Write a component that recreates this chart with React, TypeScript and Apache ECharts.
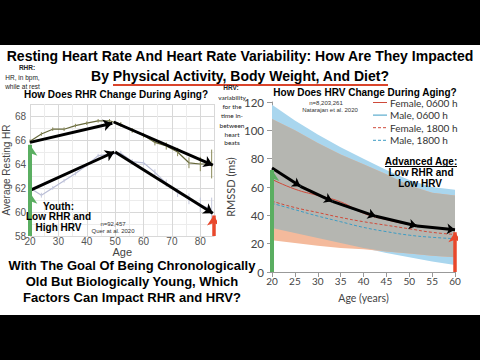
import React, { useEffect, useRef } from 'react';
import * as echarts from 'echarts';

// ---------- Left chart: RHR vs age (Quer et al. 2020) ----------
const rhrAges = [20, 24, 28, 32, 36, 40, 44, 48, 52, 56, 60, 64, 68, 72, 76, 80, 84];
const rhrWomen = [65.9, 66.5, 66.9, 66.9, 67.2, 67.4, 67.6, 67.6, 67.3, 66.8, 66.4, 65.8, 65.5, 65.0, 64.1, 64.0, 64.0];
const rhrWomenErr = [0.15, 0.15, 0.15, 0.15, 0.15, 0.15, 0.15, 0.15, 0.2, 0.2, 0.2, 0.25, 0.3, 0.35, 0.45, 0.6, 1.2];
const rhrMen = [62.0, 61.4, 62.0, 62.6, 63.2, 63.9, 64.7, 64.8, 64.9, 64.2, 64.1, 63.3, 62.4, 61.6, 61.1, 60.6, 60.2];
const rhrMenErr = [0.2, 0.2, 0.15, 0.15, 0.15, 0.15, 0.15, 0.15, 0.2, 0.2, 0.2, 0.25, 0.3, 0.35, 0.45, 0.6, 1.0];
const rhrTrendArrows = [
  [[20, 65.8], [49, 67.4]],
  [[49.5, 67.5], [84.4, 63.9]],
  [[20, 61.8], [49.7, 65.0]],
  [[50, 65.0], [84.4, 59.9]],
];
const rhrYouthTips = [65.6, 61.6];
const rhrAgedTip = 59.7;
const rhrAgedAge = 84.7;

// ---------- Right chart: RMSSD vs age (Natarajan et al. 2020) ----------
const hrvAges = [20, 25, 30, 35, 40, 45, 50, 55, 60];
const maleBandTop = [118, 107, 97, 88, 80, 72, 65, 60, 58];
const maleBandBottom = [31, 27.5, 24, 20.5, 17, 13.5, 10.5, 7.5, 5];
const femaleBandTop = [108, 100, 91, 83, 76, 69, 61, 56, 54];
const femaleBandBottom = [22.5, 20.5, 18.5, 17, 16, 14.5, 13, 11.5, 10.5];
const female0600 = [65.4, 58.5, 54, 49.5, 41.5, 37, 33.5, 31.5, 30];
const male0600 = [73, 63, 54.5, 47.5, 42, 37.5, 33.5, 31.5, 30];
const female1800 = [50, 45.5, 42, 38.5, 35.5, 33, 30.5, 28, 26.5];
const male1800 = [48.5, 44, 39.5, 35.5, 31.5, 28.5, 26, 24.5, 23.5];
const hrvTrendAges = [20, 26.2, 33.2, 42.7, 51.7, 60];
const hrvTrend = [73.4, 60.5, 49.9, 39.3, 32.5, 29.9];
const hrvYouthTip = 72;
const hrvAgedTip = 28;

const legendNames = ['Female, 0600 h', 'Male, 0600 h', 'Female, 1800 h', 'Male, 1800 h'];

const SANS = '"Liberation Sans", Arial, sans-serif';
const LATO = 'Lato, "Open Sans", sans-serif';
const GREEN = '#5aae61';
const RED = '#e8482c';
const BAND_BLUE = '#a9d6ee';
const BAND_ORANGE = '#f4ba9c';
const BAND_GREY = '#b5b6b1';
const LINE_RED = '#cf4a3a';
const LINE_BLUE = '#3c9cc4';
const legendColors = [LINE_RED, LINE_BLUE, LINE_RED, LINE_BLUE];
const legendDashed = [false, false, true, true];

const pairs = (xs: number[], ys: number[]) => xs.map((x, i) => [x, ys[i]]);

function bandSeries(bottom: number[], top: number[], color: string) {
  return {
    type: 'custom', xAxisIndex: 1, yAxisIndex: 1, z: 1, silent: true,
    data: hrvAges.map((a, i) => [a, bottom[i], top[i]]),
    encode: { x: 0, y: [1, 2] },
    renderItem: (params: any, api: any) => {
      if (params.dataIndex !== 0) return null;
      const upper = hrvAges.map((a, i) => api.coord([a, top[i]]));
      const lower = hrvAges.map((a, i) => api.coord([a, bottom[i]])).reverse();
      return { type: 'polygon', shape: { points: [...upper, ...lower] }, style: { fill: color } };
    },
  };
}

function errorBars(vals: number[], errs: number[], color: string) {
  return {
    type: 'custom', xAxisIndex: 0, yAxisIndex: 0, z: 3, silent: true,
    data: rhrAges.map((a, i) => [a, vals[i], errs[i]]),
    encode: { x: 0, y: 1 },
    renderItem: (_p: any, api: any) => {
      const x = api.value(0), y = api.value(1), e = api.value(2);
      const p1 = api.coord([x, y - e]);
      const p2 = api.coord([x, y + e]);
      return { type: 'line', shape: { x1: p1[0], y1: p1[1], x2: p2[0], y2: p2[1] }, style: { stroke: color, lineWidth: 1 } };
    },
  };
}

function arrowSeries(axis: number, segs: number[][][], color: string, width: number, size: number, z: number) {
  return {
    type: 'lines', coordinateSystem: 'cartesian2d', xAxisIndex: axis, yAxisIndex: axis, z, silent: true,
    symbol: ['none', 'arrow'], symbolSize: size,
    lineStyle: { color, width, opacity: 1, curveness: 0 },
    data: segs.map((c) => ({ coords: c })),
  };
}

function txt(text: string, x: number, y: number, font: string, fill = '#000', align = 'center') {
  return {
    type: 'text', x, y, z: 50,
    style: { text, font, fill, textAlign: align, textVerticalAlign: 'middle', align, verticalAlign: 'middle' },
  };
}

export default function App() {
  const ref = useRef<HTMLDivElement>(null);
  useEffect(() => {
    if (!ref.current) return;
    const chart = echarts.init(ref.current, undefined, { renderer: 'svg' });
    const hrvTrendSegs = hrvTrendAges.slice(1).map((a, i) => [[hrvTrendAges[i], hrvTrend[i]], [a, hrvTrend[i + 1]]]);
    const overlapTop = femaleBandTop.map((t, i) => Math.min(t, maleBandTop[i]));
    const overlapBottom = femaleBandBottom.map((b, i) => Math.max(b, maleBandBottom[i]));

    const legendGraphics: any[] = [];
    legendNames.forEach((name, i) => {
      const y = 102.5 + i * 12.6;
      legendGraphics.push({
        type: 'line', z: 50, shape: { x1: 373, y1: y, x2: 387, y2: y },
        style: { stroke: legendColors[i], lineWidth: 1, lineDash: legendDashed[i] ? [3, 2] : null },
      });
      legendGraphics.push(txt(name, 390, y, `10px ${LATO}`, '#333', 'left'));
    });

    const option: any = {
      animation: false,
      backgroundColor: '#ffffff',
      grid: [
        { left: 26, top: 104, width: 188.5, height: 132 },
        { left: 272, top: 102, width: 183, height: 170 },
      ],
      xAxis: [
        {
          gridIndex: 0, type: 'value', min: 20, max: 85, interval: 10,
          name: 'Age', nameLocation: 'middle', nameGap: 6,
          nameTextStyle: { fontFamily: SANS, fontSize: 11, color: '#444' },
          axisLine: { show: false }, axisTick: { show: false },
          axisLabel: { fontFamily: SANS, fontSize: 10, color: '#555', margin: 0, showMaxLabel: false },
          splitLine: { show: true, lineStyle: { color: '#d8d8d8' } },
          minorTick: { show: false, splitNumber: 2 },
          minorSplitLine: { show: true, lineStyle: { color: '#ececec' } },
        },
        {
          gridIndex: 1, type: 'value', min: 20, max: 60, interval: 5,
          name: 'Age (years)', nameLocation: 'middle', nameGap: 20,
          nameTextStyle: { fontFamily: LATO, fontSize: 10.5, color: '#444' },
          axisLine: { show: true, lineStyle: { color: '#999' } },
          axisTick: { show: true, length: 5, lineStyle: { color: '#999' } },
          axisLabel: { fontFamily: LATO, fontSize: 10, color: '#444', margin: 4 },
          splitLine: { show: false },
        },
      ],
      yAxis: [
        {
          gridIndex: 0, type: 'value', min: 58, max: 69, interval: 2,
          name: 'Average Resting HR', nameLocation: 'middle', nameGap: 14,
          nameTextStyle: { fontFamily: SANS, fontSize: 10, color: '#444' },
          axisLine: { show: false }, axisTick: { show: false },
          axisLabel: { fontFamily: SANS, fontSize: 10, color: '#555', margin: 4, showMaxLabel: false },
          splitLine: { show: true, lineStyle: { color: '#d8d8d8' } },
          minorTick: { show: false, splitNumber: 2 },
          minorSplitLine: { show: true, lineStyle: { color: '#ececec' } },
        },
        {
          gridIndex: 1, type: 'value', min: 0, max: 120, interval: 20,
          name: 'RMSSD (ms)', nameLocation: 'middle', nameGap: 36,
          nameTextStyle: { fontFamily: LATO, fontSize: 11, color: '#444' },
          axisLine: { show: true, lineStyle: { color: '#999' } },
          axisTick: { show: true, length: 5, lineStyle: { color: '#999' } },
          axisLabel: { fontFamily: LATO, fontSize: 11.5, color: '#444', margin: 8 },
          splitLine: { show: false },
        },
      ],
      graphic: [
        { type: 'rect', z: 0, shape: { x: 0, y: 0, width: 480, height: 45 }, style: { fill: '#000' } },
        { type: 'rect', z: 0, shape: { x: 0, y: 315, width: 480, height: 45 }, style: { fill: '#000' } },
        txt('Resting Heart Rate And Heart Rate Variability: How Are They Impacted', 240, 56, `bold 14px ${SANS}`),
        txt('By Physical Activity, Body Weight, And Diet?', 240, 76, `bold 14px ${SANS}`),
        { type: 'rect', z: 50, shape: { x: 113, y: 84, width: 275, height: 2 }, style: { fill: '#d9442b' } },
        txt('RHR:', 27, 67.5, `bold 6.5px ${SANS}`, '#222'),
        txt('HR, in bpm,', 22.5, 77, `6.5px ${SANS}`, '#222'),
        txt('while at rest', 22.5, 86, `6.5px ${SANS}`, '#222'),
        txt('How Does RHR Change During Aging?', 116, 94, `bold 10px ${SANS}`),
        txt('How Does HRV Change During Aging?', 365, 92, `bold 10px ${SANS}`),
        txt('HRV:', 231, 87.5, `bold 6.5px ${SANS}`, '#222'),
        txt('variability', 232, 97, `6.5px ${LATO}`, '#222'),
        txt('for the', 232, 106, `6.5px ${LATO}`, '#222'),
        txt('time in-', 232, 115, `6.5px ${LATO}`, '#222'),
        txt('between', 232, 125, `6.5px ${LATO}`, '#222'),
        txt('heart', 232, 134, `6.5px ${LATO}`, '#222'),
        txt('beats', 232, 142, `6.5px ${LATO}`, '#222'),
        txt('Youth:', 58.5, 206, `bold 10px ${SANS}`),
        txt('Low RHR and', 58.5, 216.5, `bold 10px ${SANS}`),
        txt('High HRV', 58.5, 227, `bold 10px ${SANS}`),
        txt('n=92,457', 113, 224, `6px ${SANS}`, '#333'),
        txt('Quer at al. 2020', 113, 230.5, `6px ${SANS}`, '#333'),
        txt('n=8,203,261', 326, 103, `6px ${SANS}`, '#333'),
        txt('Natarajan et al. 2020', 330, 110, `6px ${SANS}`, '#333'),
        txt('Advanced Age:', 421, 161, `bold 10px ${SANS}`),
        { type: 'rect', z: 50, shape: { x: 385, y: 166, width: 72, height: 1 }, style: { fill: '#000' } },
        txt('Low RHR and', 421, 172, `bold 10px ${SANS}`),
        txt('Low HRV', 420, 183, `bold 10px ${SANS}`),
        txt('With The Goal Of Being Chronologically', 132, 265.5, `bold 13px ${SANS}`),
        txt('Old But Biologically Young, Which', 132, 281, `bold 13px ${SANS}`),
        txt('Factors Can Impact RHR and HRV?', 132, 297, `bold 13px ${SANS}`),
        ...legendGraphics,
      ],
      series: [
        // left chart
        {
          type: 'line', name: 'Women', xAxisIndex: 0, yAxisIndex: 0, z: 2, symbol: 'none',
          data: pairs(rhrAges, rhrWomen), lineStyle: { color: '#66683a', width: 1.2 },
        },
        {
          type: 'line', name: 'Men', xAxisIndex: 0, yAxisIndex: 0, z: 2, symbol: 'none',
          data: pairs(rhrAges, rhrMen), lineStyle: { color: '#b9bdd6', width: 1.2 },
        },
        errorBars(rhrWomen, rhrWomenErr, '#8a8a5a'),
        errorBars(rhrMen, rhrMenErr, '#c4c8dc'),
        arrowSeries(0, rhrTrendArrows, '#000', 3, 9, 6),
        arrowSeries(0, rhrYouthTips.map((t) => [[20, 58], [20, t]]), GREEN, 4, 11, 7),
        arrowSeries(0, [[[rhrAgedAge, 58], [rhrAgedAge, rhrAgedTip]]], RED, 3.5, 10, 7),
        // right chart bands
        bandSeries(maleBandBottom, maleBandTop, BAND_BLUE),
        bandSeries(femaleBandBottom, femaleBandTop, BAND_ORANGE),
        bandSeries(overlapBottom, overlapTop, BAND_GREY),
        {
          type: 'line', name: legendNames[1], xAxisIndex: 1, yAxisIndex: 1, z: 3, symbol: 'none', smooth: true,
          data: pairs(hrvAges, male0600), lineStyle: { color: LINE_BLUE, width: 1 }, itemStyle: { color: LINE_BLUE },
        },
        {
          type: 'line', name: legendNames[0], xAxisIndex: 1, yAxisIndex: 1, z: 3, symbol: 'none', smooth: true,
          data: pairs(hrvAges, female0600), lineStyle: { color: LINE_RED, width: 1 }, itemStyle: { color: LINE_RED },
        },
        {
          type: 'line', name: legendNames[2], xAxisIndex: 1, yAxisIndex: 1, z: 3, symbol: 'none', smooth: true,
          data: pairs(hrvAges, female1800), lineStyle: { color: LINE_RED, width: 1, type: [3, 2] }, itemStyle: { color: LINE_RED },
        },
        {
          type: 'line', name: legendNames[3], xAxisIndex: 1, yAxisIndex: 1, z: 3, symbol: 'none', smooth: true,
          data: pairs(hrvAges, male1800), lineStyle: { color: LINE_BLUE, width: 1, type: [3, 2] }, itemStyle: { color: LINE_BLUE },
        },
        arrowSeries(1, hrvTrendSegs, '#000', 3, 8, 6),
        arrowSeries(1, [[[20, 0], [20, hrvYouthTip]]], GREEN, 4, 11, 7),
        arrowSeries(1, [[[60, 0], [60, hrvAgedTip]]], RED, 3.5, 10, 7),
      ],
    };
    chart.setOption(option);
    return () => chart.dispose();
  }, []);
  return <div ref={ref} style={{ position: 'absolute', left: 0, top: 0, width: 480, height: 360 }} />;
}
